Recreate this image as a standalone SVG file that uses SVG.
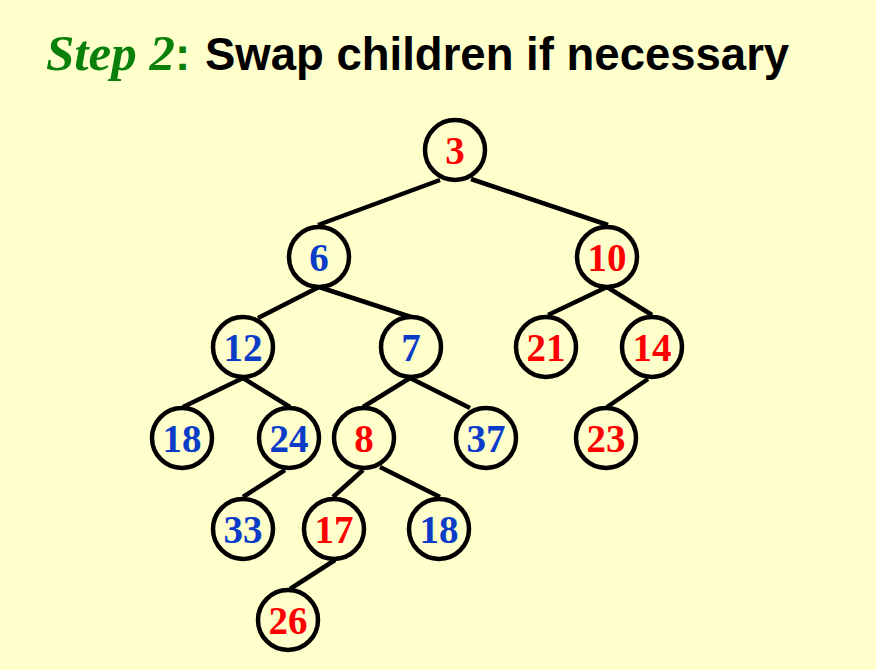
<svg xmlns="http://www.w3.org/2000/svg" width="876" height="670" viewBox="0 0 876 670">
<style>
.bg{fill:#FFFFCC}
.edge{stroke:#000;stroke-width:4.5;stroke-linecap:butt}
.node circle{fill:#FFFFCC;stroke:#000;stroke-width:4.5}
.node text{font-family:"Liberation Serif","Times New Roman",serif;font-weight:bold;font-size:39px;text-anchor:middle}
.r text{fill:#FF0000}
.b text{fill:#0A3CC8}
.title{font-family:"Liberation Sans",Arial,sans-serif;font-weight:bold;font-size:45.5px;fill:#000}
.step{font-family:"Liberation Serif","Times New Roman",serif;font-style:italic;font-weight:bold;font-size:51px;fill:#0A800A}
</style>
<rect class="bg" x="0" y="0" width="876" height="670"/>
<text id="title" class="title" y="70"><tspan class="step" x="46">Step 2</tspan><tspan x="175" fill="#0A800A">:</tspan><tspan x="205">Swap children if necessary</tspan></text>
<g id="connectors">
<line class="edge" x1="440" y1="180" x2="318" y2="225"/>
<line class="edge" x1="471" y1="179" x2="608" y2="225"/>
<line class="edge" x1="319" y1="287" x2="258" y2="318"/>
<line class="edge" x1="319" y1="287" x2="411" y2="317"/>
<line class="edge" x1="607" y1="287" x2="548" y2="315"/>
<line class="edge" x1="607" y1="287" x2="652" y2="315"/>
<line class="edge" x1="243" y1="378" x2="183" y2="407"/>
<line class="edge" x1="243" y1="378" x2="290" y2="407"/>
<line class="edge" x1="410" y1="378" x2="363" y2="407"/>
<line class="edge" x1="410" y1="378" x2="470" y2="408"/>
<line class="edge" x1="648" y1="379" x2="607" y2="407"/>
<line class="edge" x1="285" y1="470" x2="243" y2="497"/>
<line class="edge" x1="363" y1="470" x2="333" y2="497"/>
<line class="edge" x1="380" y1="467" x2="440" y2="497"/>
<line class="edge" x1="335" y1="560" x2="290" y2="589"/>
</g>
<g id="n3" class="node r"><circle cx="455" cy="150" r="30"/><text x="455" y="164">3</text></g>
<g id="n6" class="node b"><circle cx="319" cy="257" r="30"/><text x="319" y="271">6</text></g>
<g id="n10" class="node r"><circle cx="607" cy="257" r="30"/><text x="607" y="271">10</text></g>
<g id="n12" class="node b"><circle cx="243" cy="347" r="30"/><text x="243" y="361">12</text></g>
<g id="n7" class="node b"><circle cx="411" cy="347" r="30"/><text x="411" y="361">7</text></g>
<g id="n21" class="node r"><circle cx="546" cy="347" r="30"/><text x="546" y="361">21</text></g>
<g id="n14" class="node r"><circle cx="652" cy="347" r="30"/><text x="652" y="361">14</text></g>
<g id="n18a" class="node b"><circle cx="182" cy="438" r="30"/><text x="182" y="452">18</text></g>
<g id="n24" class="node b"><circle cx="289" cy="438" r="30"/><text x="289" y="452">24</text></g>
<g id="n8" class="node r"><circle cx="364" cy="438" r="30"/><text x="364" y="452">8</text></g>
<g id="n37" class="node b"><circle cx="486" cy="438" r="30"/><text x="486" y="452">37</text></g>
<g id="n23" class="node r"><circle cx="606" cy="438" r="30"/><text x="606" y="452">23</text></g>
<g id="n33" class="node b"><circle cx="243" cy="529" r="30"/><text x="243" y="543">33</text></g>
<g id="n17" class="node r"><circle cx="334" cy="529" r="30"/><text x="334" y="543">17</text></g>
<g id="n18b" class="node b"><circle cx="439" cy="529" r="30"/><text x="439" y="543">18</text></g>
<g id="n26" class="node r"><circle cx="288" cy="620" r="30"/><text x="288" y="634">26</text></g>
</svg>
